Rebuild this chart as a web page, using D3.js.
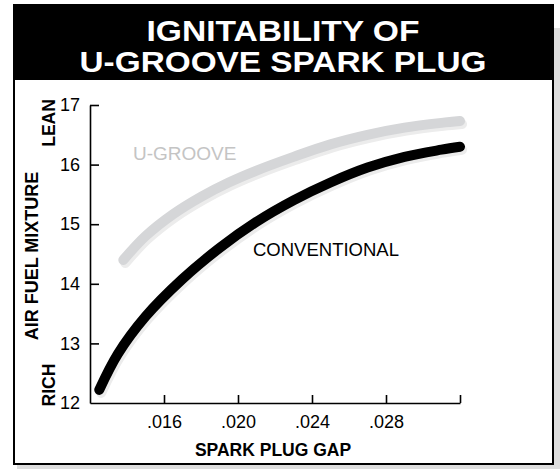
<!DOCTYPE html>
<html>
<head>
<meta charset="utf-8">
<script src="https://cdn.jsdelivr.net/npm/d3@7"></script>
<style>
  body { margin: 0; background: #fff; }
  svg { display: block; font-family: "Liberation Sans", Arial, Helvetica, sans-serif; }
</style>
</head>
<body>
<div id="chart"></div>
<script>
// chart values
var titleLines = ["IGNITABILITY OF", "U-GROOVE SPARK PLUG"];
var gapTicks = [0.016, 0.020, 0.024, 0.028, 0.032];
var mixtureTicks = [12, 13, 14, 15, 16, 17];
var seriesNames = ["U-GROOVE", "CONVENTIONAL"];

var uGrooveGap = [0.0138, 0.0150, 0.0165, 0.0180, 0.0195, 0.0210, 0.0230, 0.0250, 0.0270, 0.0290, 0.0310, 0.0320];
var uGrooveMix = [14.40, 14.80, 15.17, 15.46, 15.70, 15.90, 16.13, 16.34, 16.50, 16.62, 16.70, 16.73];

var convGap = [0.0125, 0.0135, 0.0150, 0.0170, 0.0190, 0.0210, 0.0230, 0.0250, 0.0270, 0.0290, 0.0310, 0.0320];
var convMix = [12.22, 12.82, 13.45, 14.08, 14.60, 15.04, 15.40, 15.70, 15.95, 16.13, 16.25, 16.30];

var width = 560, height = 469;

var svg = d3.select("#chart").append("svg")
    .attr("width", width)
    .attr("height", height);

// frame + drop shadow
svg.append("rect")
    .attr("x", 17).attr("y", 28)
    .attr("width", 545).attr("height", 450)
    .attr("fill", "#dedede");

svg.append("rect")
    .attr("x", 14).attr("y", 5)
    .attr("width", 539).attr("height", 459)
    .attr("fill", "#fff")
    .attr("stroke", "#000")
    .attr("stroke-width", 2);

svg.append("rect")
    .attr("x", 13).attr("y", 4)
    .attr("width", 541).attr("height", 76)
    .attr("fill", "#000");

var titleWidths = [273, 407];
svg.selectAll("text.title")
    .data(titleLines)
    .enter()
    .append("text")
    .attr("class", "title")
    .attr("x", 283)
    .attr("y", function (d, i) { return 41 + i * 31; })
    .attr("text-anchor", "middle")
    .attr("fill", "#fff")
    .attr("font-size", 30)
    .attr("font-weight", 900)
    .attr("textLength", function (d, i) { return titleWidths[i]; })
    .attr("lengthAdjust", "spacingAndGlyphs")
    .text(function (d) { return d; });

// scales
var xScale = d3.scaleLinear()
    .domain([0.012, 0.032])
    .range([90, 460]);

var yScale = d3.scaleLinear()
    .domain([12, 17])
    .range([403, 105]);

// axes
var gapFormat = d3.format(".3f");
var xAxis = d3.axisBottom(xScale)
    .tickValues(gapTicks)
    .tickSizeInner(-8)
    .tickSizeOuter(0)
    .tickPadding(12)
    .tickFormat(function (d) { return d > 0.031 ? "" : gapFormat(d).replace(/^0/, ""); });

var yAxis = d3.axisLeft(yScale)
    .tickValues(mixtureTicks)
    .tickSizeInner(-9)
    .tickSizeOuter(0)
    .tickPadding(10)
    .tickFormat(d3.format("d"));

var xg = svg.append("g")
    .attr("transform", "translate(0," + yScale(12) + ")")
    .call(xAxis);

var yg = svg.append("g")
    .attr("transform", "translate(" + xScale(0.012) + ",0)")
    .call(yAxis);

[xg, yg].forEach(function (g) {
    g.selectAll("path, line").attr("stroke", "#000").attr("stroke-width", 1.6);
    g.selectAll("text")
        .attr("fill", "#000")
        .attr("font-size", 18)
        .attr("font-family", "Liberation Sans, Arial, sans-serif");
});
yg.selectAll(".tick")
    .filter(function (d) { return d === 12; })
    .select("line").remove();

// curves
var line = d3.line()
    .x(function (d) { return xScale(d[0]); })
    .y(function (d) { return yScale(d[1]); })
    .curve(d3.curveCatmullRom.alpha(0.5));

var series = [
    { name: seriesNames[0], pts: d3.zip(uGrooveGap, uGrooveMix), color: "#d5d6d8" },
    { name: seriesNames[1], pts: d3.zip(convGap, convMix), color: "#000" }
];

var curves = svg.append("g");
series.forEach(function (s) {
    curves.append("path")
        .attr("d", line(s.pts))
        .attr("transform", "translate(2,3)")
        .attr("fill", "none")
        .attr("stroke", "#ececec")
        .attr("stroke-width", 10)
        .attr("stroke-linecap", "round");
    curves.append("path")
        .attr("d", line(s.pts))
        .attr("fill", "none")
        .attr("stroke", s.color)
        .attr("stroke-width", 10)
        .attr("stroke-linecap", "round");
});

// series labels
svg.append("text")
    .attr("x", 133).attr("y", 160)
    .attr("font-size", 19)
    .attr("fill", "#c4c4c4")
    .text(seriesNames[0]);

svg.append("text")
    .attr("x", 253).attr("y", 256)
    .attr("font-size", 18.5)
    .attr("fill", "#000")
    .text(seriesNames[1]);

// axis titles
svg.append("text")
    .attr("x", 273).attr("y", 456)
    .attr("text-anchor", "middle")
    .attr("font-size", 17.5)
    .attr("font-weight", "bold")
    .text("SPARK PLUG GAP");

var sideLabels = [
    { text: "AIR FUEL MIXTURE", x: 38, y: 256, size: 18 },
    { text: "LEAN", x: 55, y: 123, size: 17.5 },
    { text: "RICH", x: 55, y: 385, size: 17.5 }
];
svg.selectAll("text.side")
    .data(sideLabels)
    .enter()
    .append("text")
    .attr("class", "side")
    .attr("transform", function (d) { return "translate(" + d.x + "," + d.y + ") rotate(-90)"; })
    .attr("text-anchor", "middle")
    .attr("font-size", function (d) { return d.size; })
    .attr("font-weight", "bold")
    .text(function (d) { return d.text; });
</script>
</body>
</html>
